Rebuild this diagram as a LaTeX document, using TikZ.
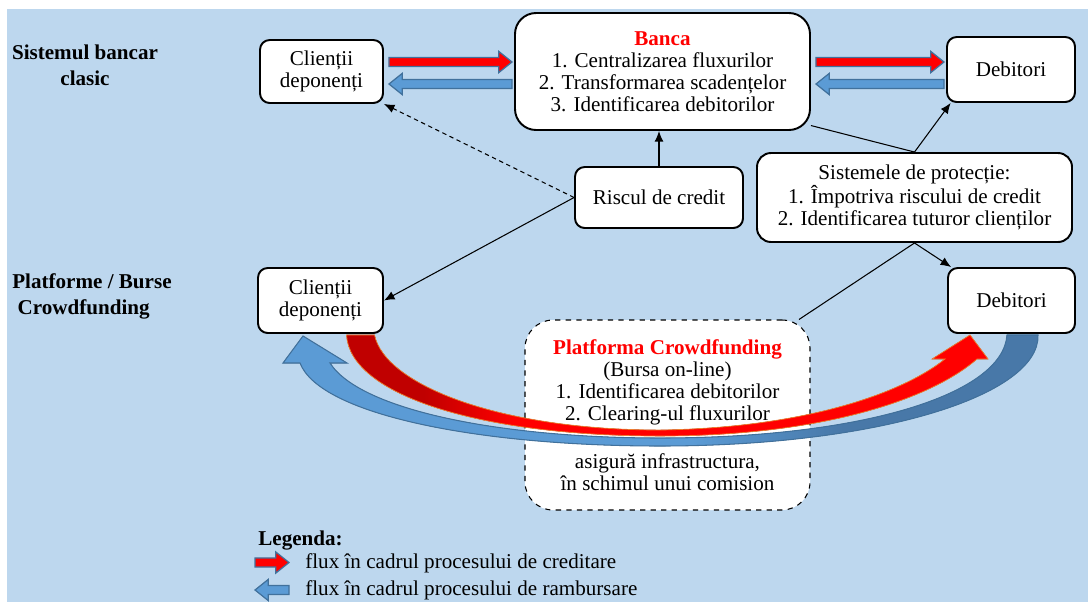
\documentclass[tikz,border=0pt]{standalone}
\usepackage{fontspec}
\setmainfont{Liberation Serif}
\usetikzlibrary{calc,arrows.meta}

\definecolor{fundal}{HTML}{BDD7EE}
\definecolor{albastru}{HTML}{5B9BD5}
\definecolor{albastruinchis}{HTML}{41719C}
\definecolor{otel}{HTML}{4878A8}
\definecolor{rosuinchis}{HTML}{C00000}
\definecolor{margine}{HTML}{F08030}

\pgfdeclarehorizontalshading{creditare}{100bp}{color(0bp)=(rosuinchis); color(31bp)=(rosuinchis); color(38bp)=(red); color(100bp)=(red)}
\pgfdeclarehorizontalshading{rambursare}{100bp}{color(0bp)=(albastru); color(52bp)=(albastru); color(62bp)=(otel); color(100bp)=(otel)}

% block arrow: style, tail, tip (horizontal, height taken from the tail)
\newcommand\flux[3]{%
  \path (#2) coordinate (fluxA) (#3) coordinate (fluxB);
  \filldraw[#1] let \p1=(fluxA), \p2=(fluxB), \n1={\x2-ifthenelse(\x2>\x1,7.5pt,-7.5pt)} in
    (\x1,\y1+2.6pt) -- (\n1,\y1+2.6pt) -- (\n1,\y1+6pt) -- (\x2,\y1)
    -- (\n1,\y1-6pt) -- (\n1,\y1-2.6pt) -- (\x1,\y1-2.6pt) -- cycle;}

\tikzset{
  bloc/.style={draw, fill=white, line width=1.1pt, rounded corners=5.5pt, align=center, inner sep=0pt},
  titlu/.style={font=\fontsize{12}{14.7}\selectfont\bfseries, align=center},
  conn/.style={line width=0.6pt, -{Latex[length=6pt,width=5pt]}},
  fluxcredit/.style={fill=red, draw=albastruinchis, line width=0.7pt},
  fluxramb/.style={fill=albastru, draw=albastruinchis, line width=0.7pt},
}

\begin{document}
\begin{tikzpicture}[x=0.2mm, y=-0.2mm, font=\fontsize{12}{12.6}\selectfont]
  \useasboundingbox (0,0) rectangle (1088,602);
  \fill[fundal] (7,9) rectangle (1088,602);

  % row titles
  \node[titlu] (clasic) at (85,65) {Sistemul bancar\\clasic};
  \node[titlu, align=left, anchor=west, inner sep=0pt] (platforme) at (12,296) {Platforme / Burse\\\hspace*{3pt}Crowdfunding};

  % classic banking
  \node[bloc, minimum width=2.46cm, minimum height=1.26cm] (cl1) at (321.5,71.5) {Clienții\\deponenți};
  \node[bloc, rounded corners=12pt, minimum width=5.9cm, minimum height=2.34cm] (banca) at (662.5,71.5)
    {\textcolor{red}{\bfseries Banca}\\1. Centralizarea fluxurilor\\2. Transformarea scadențelor\\3. Identificarea debitorilor};
  \node[bloc, minimum width=2.56cm, minimum height=1.3cm] (deb1) at (1011,69.5) {Debitori};
  \node[bloc, minimum width=3.36cm, minimum height=1.22cm] (risc) at (659,197.5) {Riscul de credit};
  \node[bloc, rounded corners=8pt, minimum width=6.3cm, minimum height=1.78cm] (prot) at (914.5,197.5)
    {Sistemele de protecție:\\1. Împotriva riscului de credit\\2. Identificarea tuturor clienților};

  % crowdfunding
  \node[bloc, minimum width=2.5cm, minimum height=1.3cm] (cl2) at (320.5,300.5) {Clienții\\deponenți};
  \node[bloc, minimum width=2.54cm, minimum height=1.3cm] (deb2) at (1011.5,300.5) {Debitori};
  \node[bloc, dashed, line width=0.6pt, rounded corners=16pt, minimum width=5.7cm, minimum height=3.8cm] (platf) at (667.5,415)
    {\textcolor{red}{\bfseries Platforma Crowdfunding}\\(Bursa on-line)\\1. Identificarea debitorilor\\2. Clearing-ul fluxurilor\\[14.6pt]asigură infrastructura,\\în schimul unui comision};

  % flows of the bank
  \flux{fluxcredit}{$(cl1.east)+(5,-9.5)$}{$(banca.west)+(-2,-9.5)$}
  \flux{fluxramb}{$(banca.west)+(-2,12.5)$}{$(cl1.east)+(5,12.5)$}
  \flux{fluxcredit}{$(banca.east)+(5,-9.5)$}{$(deb1.west)+(-2,-9.5)$}
  \flux{fluxramb}{$(deb1.west)+(-2,14.5)$}{$(banca.east)+(5,12.5)$}

  % links
  \draw[conn] (risc.north) -- (risc.north |- banca.south);
  \draw[conn, dash pattern=on 2.5pt off 2pt] (risc.west) -- (cl1.south east);
  \draw[conn] (risc.west) -- (cl2.east);
  \draw[line width=0.6pt] (banca.-20) -- (prot.north);
  \draw[conn] (prot.north) -- (deb1.209);
  \draw[conn] (prot.south) -- (deb2.151);
  \draw[line width=0.6pt] (prot.south) -- (platf.36);

  % curved flows of the platform
  \filldraw[shading=creditare, draw=margine, line width=0.4pt] ($(cl2.south)+(26,1)$)
    .. controls (350,395) and (480,436) .. (660,436)
    .. controls (820,436) and (930,400) .. (977,359)
    -- (988,359) -- ($(deb2.south)+(-41.5,1)$) -- (932,359) -- (945,359)
    .. controls (900,395) and (800,428) .. (660,430)
    .. controls (500,430) and (385,385) .. ($(cl2.south)+(54,1)$) -- cycle;
  \filldraw[shading=rambursare, draw=albastruinchis, line width=0.6pt] ($(deb2.south)+(26.5,1)$)
    .. controls (1040,395) and (880,446) .. (660,446)
    .. controls (480,446) and (320,415) .. (300,363)
    -- (283,363) -- ($(cl2.south)+(-17.5,2)$) -- (347,363) -- (330,363)
    .. controls (360,410) and (500,438) .. (660,438)
    .. controls (860,438) and (1003,395) .. ($(deb2.south)+(-4.5,1)$) -- cycle;

  % legend
  \node[font=\fontsize{12}{14}\selectfont\bfseries, anchor=west, inner sep=0pt] (leg) at (258,540) {Legenda:};
  \coordinate (lc1) at (255,562.5);
  \coordinate (lc2) at (289,562.5);
  \flux{fluxcredit}{lc1}{lc2}
  \node[anchor=west, inner sep=0pt] (legcred) at (305,563) {flux în cadrul procesului de creditare};
  \coordinate (lr1) at (289,590);
  \coordinate (lr2) at (255,590);
  \flux{fluxramb}{lr1}{lr2}
  \node[anchor=west, inner sep=0pt] (legramb) at (305,590) {flux în cadrul procesului de rambursare};
\end{tikzpicture}
\end{document}
